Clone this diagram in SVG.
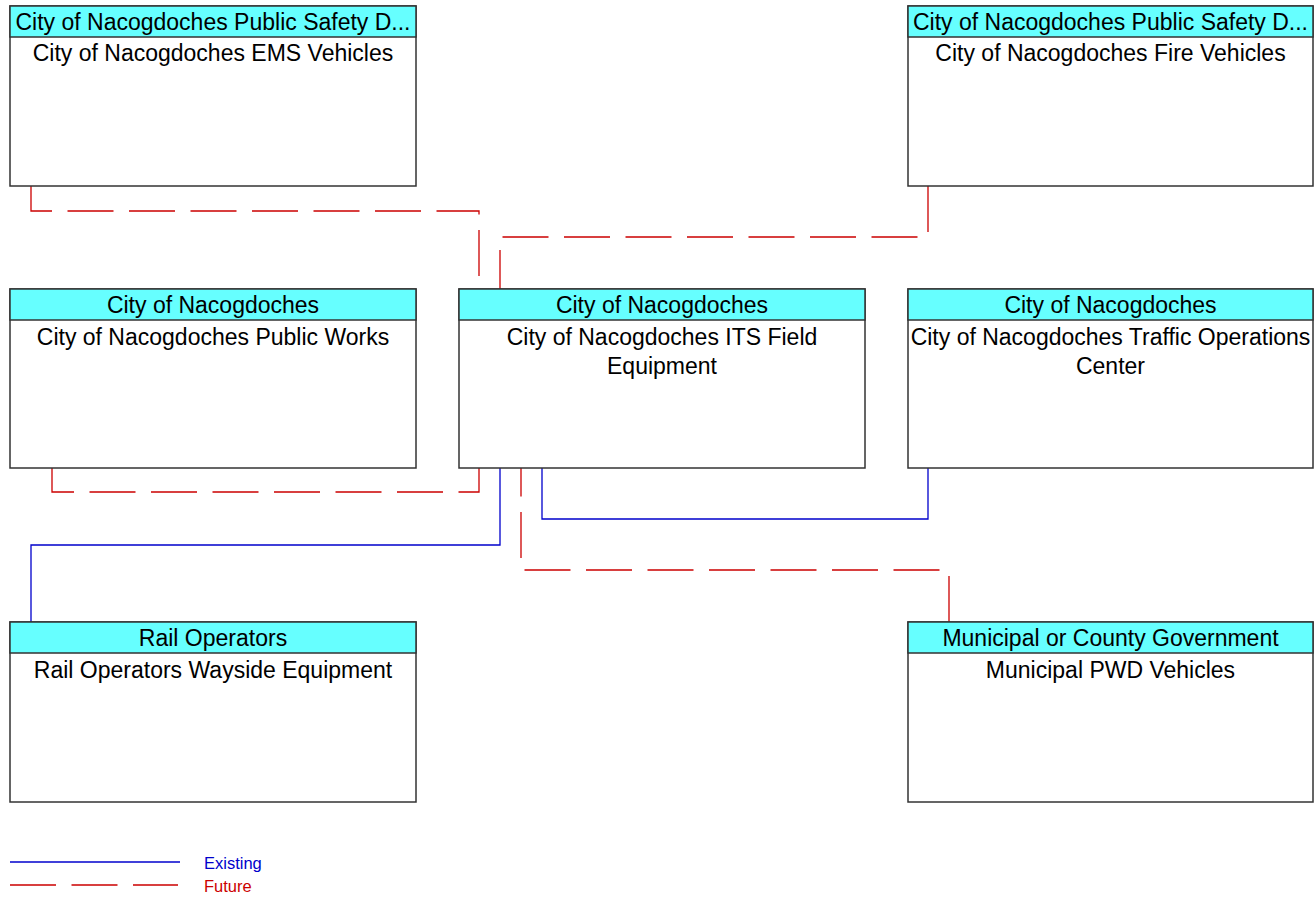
<svg xmlns="http://www.w3.org/2000/svg" width="1316" height="897" viewBox="0 0 1316 897">
<style>
.box{fill:#ffffff;stroke:#333333;stroke-width:1.5}
.hdr{fill:#66ffff;stroke:#333333;stroke-width:1.5}
.t{font-family:"Liberation Sans",Arial,sans-serif;font-size:23px;fill:#000000;text-anchor:middle}
.ex{fill:none;stroke:#0000cc;stroke-width:1.3}
.fu{fill:none;stroke:#cc0000;stroke-width:1.3;stroke-dasharray:46 15.5}
.lg{font-family:"Liberation Sans",Arial,sans-serif;font-size:16.5px}
</style>
<rect width="1316" height="897" fill="#ffffff"/>
<g id="connectors">
<path class="fu" d="M31,186 V211 H479 V289"/>
<path class="fu" d="M928,186 V237 H500 V289"/>
<path class="fu" d="M52,468 V492 H479 V468"/>
<path class="ex" d="M500,468 V545 H31 V622"/>
<path class="ex" d="M542,468 V519 H928 V468"/>
<path class="fu" d="M949,622 V570 H521 V468"/>
</g>
<g id="ems">
<rect class="box" x="10" y="6" width="406" height="180"/>
<rect class="hdr" x="10" y="6" width="406" height="31"/>
<text class="t" x="213" y="30">City of Nacogdoches Public Safety D...</text>
<text class="t" x="213" y="61">City of Nacogdoches EMS Vehicles</text>
</g>
<g id="fire">
<rect class="box" x="908" y="6" width="405" height="180"/>
<rect class="hdr" x="908" y="6" width="405" height="31"/>
<text class="t" x="1110.5" y="30">City of Nacogdoches Public Safety D...</text>
<text class="t" x="1110.5" y="61">City of Nacogdoches Fire Vehicles</text>
</g>
<g id="publicworks">
<rect class="box" x="10" y="289" width="406" height="179"/>
<rect class="hdr" x="10" y="289" width="406" height="31"/>
<text class="t" x="213" y="313">City of Nacogdoches</text>
<text class="t" x="213" y="345">City of Nacogdoches Public Works</text>
</g>
<g id="its">
<rect class="box" x="459" y="289" width="406" height="179"/>
<rect class="hdr" x="459" y="289" width="406" height="31"/>
<text class="t" x="662" y="313">City of Nacogdoches</text>
<text class="t" x="662" y="345">City of Nacogdoches ITS Field</text>
<text class="t" x="662" y="374">Equipment</text>
</g>
<g id="toc">
<rect class="box" x="908" y="289" width="405" height="179"/>
<rect class="hdr" x="908" y="289" width="405" height="31"/>
<text class="t" x="1110.5" y="313">City of Nacogdoches</text>
<text class="t" x="1110.5" y="345">City of Nacogdoches Traffic Operations</text>
<text class="t" x="1110.5" y="374">Center</text>
</g>
<g id="rail">
<rect class="box" x="10" y="622" width="406" height="180"/>
<rect class="hdr" x="10" y="622" width="406" height="31"/>
<text class="t" x="213" y="646">Rail Operators</text>
<text class="t" x="213" y="678">Rail Operators Wayside Equipment</text>
</g>
<g id="municipal">
<rect class="box" x="908" y="622" width="405" height="180"/>
<rect class="hdr" x="908" y="622" width="405" height="31"/>
<text class="t" x="1110.5" y="646">Municipal or County Government</text>
<text class="t" x="1110.5" y="678">Municipal PWD Vehicles</text>
</g>
<g id="legend">
<line class="ex" x1="10" y1="862" x2="180" y2="862"/>
<text class="lg" x="204" y="869" fill="#0000cc">Existing</text>
<line class="fu" x1="10" y1="885" x2="178" y2="885"/>
<text class="lg" x="204" y="892" fill="#cc0000">Future</text>
</g>
</svg>
